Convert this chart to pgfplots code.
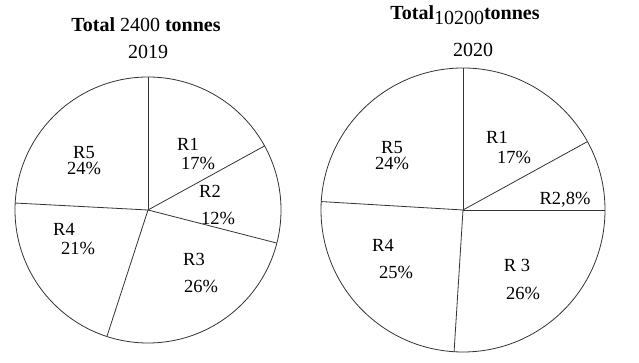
\documentclass[border=0pt]{standalone}
\usepackage{pgfplots}
\pgfplotsset{compat=1.18}
\usepackage{fontspec}
\setmainfont{Liberation Serif}
\begin{document}
\begin{tikzpicture}[x=1pt,y=1pt]
\useasboundingbox (0,0) rectangle (639,363);
\tikzset{lbl/.style={inner sep=0pt,font=\fontsize{18.5}{21}\selectfont}}
% ---------- 2019 ----------
\begin{axis}[hide axis, scale only axis, clip=false,
  width=266pt, height=266pt, xmin=-133, xmax=133, ymin=-133, ymax=133,
  at={(148pt,153pt)}, anchor=origin]
  \draw[black!80, line width=0.8pt] (axis cs:0,0) circle[radius=133];
  % slice boundaries (angle in degrees, radius), clockwise from top
  % R1 17%, R2 12%, R3 26%, R4 21%, R5 24%
  \addplot[black!80, line width=0.8pt, data cs=polar] coordinates {(0,0) (90,133)};
  \addplot[black!80, line width=0.8pt, data cs=polar] coordinates {(0,0) (28.8,133)};
  \addplot[black!80, line width=0.8pt, data cs=polar] coordinates {(0,0) (-14.4,133)};
  \addplot[black!80, line width=0.8pt, data cs=polar] coordinates {(0,0) (-108,133)};
  \addplot[black!80, line width=0.8pt, data cs=polar] coordinates {(0,0) (177,133)};
  \node[lbl] at (axis cs:-64,57) {R5};
  \node[lbl] at (axis cs:-64,42) {24\%};
  \node[lbl] at (axis cs:40,66) {R1};
  \node[lbl] at (axis cs:50,47) {17\%};
  \node[lbl] at (axis cs:62,19) {R2};
  \node[lbl] at (axis cs:70,-8) {12\%};
  \node[lbl] at (axis cs:46,-49) {R3};
  \node[lbl] at (axis cs:53,-76) {26\%};
  \node[lbl] at (axis cs:-84,-19) {R4};
  \node[lbl] at (axis cs:-70,-38) {21\%};
\end{axis}
% ---------- 2020 ----------
\begin{axis}[hide axis, scale only axis, clip=false,
  width=284pt, height=284pt, xmin=-142, xmax=142, ymin=-142, ymax=142,
  at={(463pt,153pt)}, anchor=origin]
  \draw[black!80, line width=0.8pt] (axis cs:0,0) circle[radius=142];
  % R1 17%, R2 8%, R3 26%, R4 25%, R5 24%
  \addplot[black!80, line width=0.8pt, data cs=polar] coordinates {(0,0) (90,142)};
  \addplot[black!80, line width=0.8pt, data cs=polar] coordinates {(0,0) (28.8,142)};
  \addplot[black!80, line width=0.8pt, data cs=polar] coordinates {(0,0) (0,142)};
  \addplot[black!80, line width=0.8pt, data cs=polar] coordinates {(0,0) (-93.6,142)};
  \addplot[black!80, line width=0.8pt, data cs=polar] coordinates {(0,0) (176.6,142)};
  \node[lbl] at (axis cs:-71,62) {R5};
  \node[lbl] at (axis cs:-71,47) {24\%};
  \node[lbl] at (axis cs:34,73) {R1};
  \node[lbl] at (axis cs:51,53) {17\%};
  \node[lbl] at (axis cs:102,10) {R2,8\%};
  \node[lbl] at (axis cs:54,-55) {R 3};
  \node[lbl] at (axis cs:60,-83) {26\%};
  \node[lbl] at (axis cs:-80,-35) {R4};
  \node[lbl] at (axis cs:-67,-62) {25\%};
\end{axis}
% titles
\node[anchor=base, inner sep=0pt, font=\fontsize{20}{24}\selectfont] at (146,331)
  {\textbf{Total} 2400 \textbf{tonnes}};
\node[anchor=base, inner sep=0pt, font=\fontsize{20}{24}\selectfont] at (148,304) {2019};
\node[anchor=base, inner sep=0pt, font=\fontsize{20}{24}\selectfont] at (465,343)
  {\textbf{Total}\raisebox{-5pt}{10200}\textbf{tonnes}};
\node[anchor=base, inner sep=0pt, font=\fontsize{20}{24}\selectfont] at (473,306) {2020};
\end{tikzpicture}
\end{document}
